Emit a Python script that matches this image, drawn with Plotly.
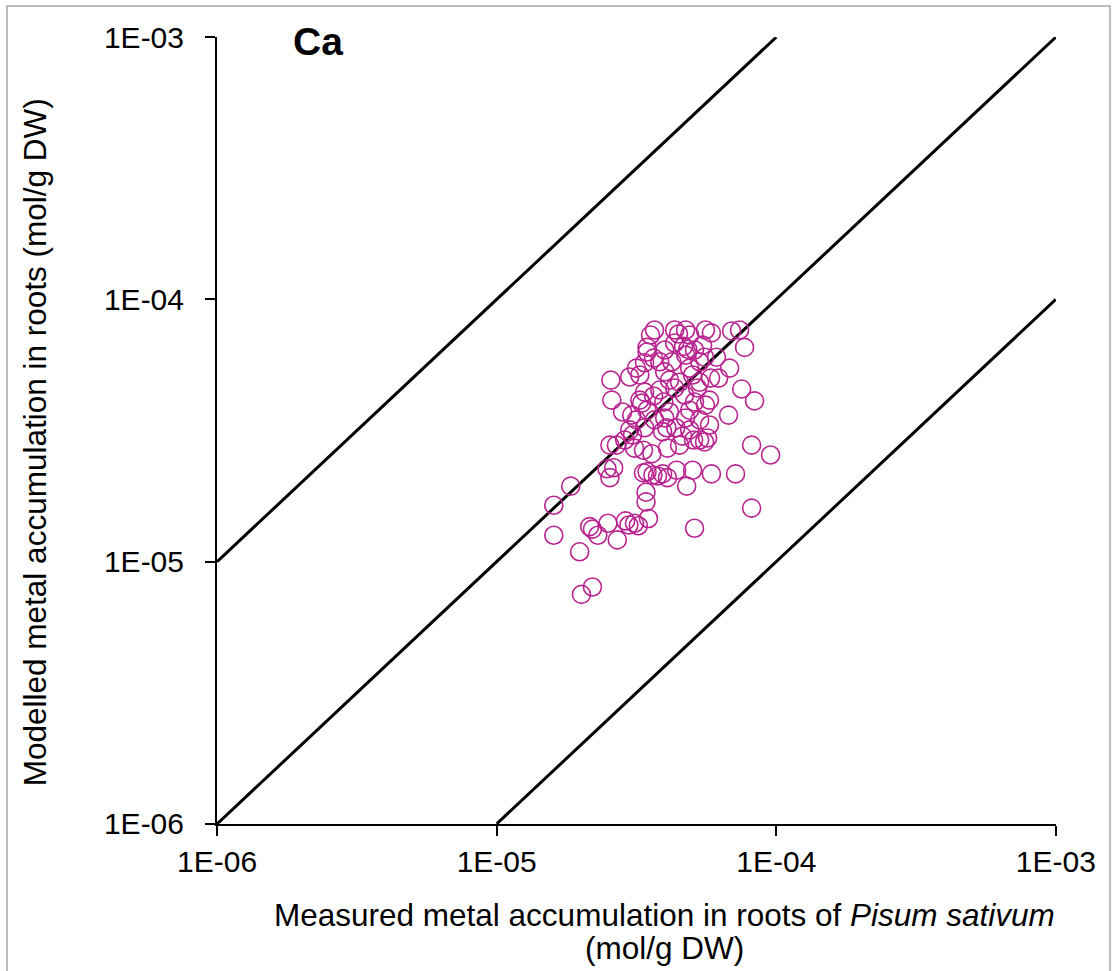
import plotly.graph_objects as go

# Measured (x) and modelled (y) Ca accumulation in roots, mol/g DW (values in units of 1e-5)
measured_e5 = [
    3.55, 3.67, 4.33, 4.47, 4.74, 4.90, 5.58, 5.86, 6.92, 7.39, 7.70, 3.45, 4.33, 4.66, 4.82, 5.45, 3.64, 3.45,
    3.25, 2.99, 3.16, 3.38, 3.83, 3.99, 4.15, 4.51, 4.74, 4.90, 5.32, 5.54, 6.11, 6.81, 5.82, 6.22, 5.32, 5.02,
    4.33, 3.83, 3.38, 3.25, 3.64, 3.96, 7.52, 8.36, 4.70, 5.23, 2.58, 2.56,
    2.82, 3.04, 3.30, 3.45, 3.67, 3.99, 4.15, 4.37, 4.74, 4.90, 5.10, 5.32, 5.58, 5.77, 6.75, 3.92, 4.06, 4.62,
    4.90, 5.06, 5.32, 5.54, 5.68, 5.77, 2.68, 2.87, 3.11, 3.35, 3.59, 4.08, 4.51, 8.16, 9.54, 3.06, 3.38, 3.16,
    2.99, 2.54,
    2.54, 2.62, 2.48, 3.35, 3.45, 3.62, 3.76, 3.92, 4.08, 4.40, 4.78, 5.02, 5.86, 7.15, 1.84, 3.42, 3.42, 1.60,
    1.60, 1.98, 2.01, 2.20, 2.15, 2.20, 2.30, 2.50, 2.70, 2.89, 2.97, 3.11, 3.21, 3.49, 5.10, 8.16,
    3.99, 5.10, 4.23,
]
modelled_e5 = [
    7.31, 7.64, 7.64, 7.38, 7.64, 7.31, 7.64, 7.45, 7.58, 7.64, 6.56, 6.56, 6.82, 6.62, 6.45, 6.69, 5.97, 6.30,
    5.15, 5.06, 5.47, 5.73, 5.78, 5.29, 4.92, 4.83, 6.13, 5.47, 5.78, 6.02, 6.02, 5.47, 5.01, 5.01, 4.83, 5.15,
    4.59, 4.51, 4.43, 4.13, 4.28, 4.06, 4.55, 4.10, 4.32, 4.59, 4.13, 4.92,
    3.72, 3.62, 4.02, 3.78, 3.47, 3.53, 3.72, 3.24, 3.53, 3.78, 4.06, 3.47, 3.95, 4.13, 3.62, 3.13, 3.24, 3.01,
    3.18, 2.91, 2.91, 2.86, 2.96, 3.32, 2.78, 2.91, 2.71, 2.66, 2.58, 2.71, 2.78, 2.78, 2.55, 3.04, 3.24, 3.47,
    3.18, 2.78,
    2.09, 2.28, 2.26, 2.18, 2.20, 2.14, 2.12, 2.16, 2.09, 2.23, 1.94, 2.23, 2.16, 2.16, 1.94, 1.84, 1.69, 1.64,
    1.26, 1.09, 0.75, 0.80, 1.36, 1.33, 1.26, 1.40, 1.21, 1.43, 1.38, 1.40, 1.37, 1.46, 1.34, 1.60,
    6.41, 6.41, 5.78,
]
measured = [v * 1e-5 for v in measured_e5]
modelled = [v * 1e-5 for v in modelled_e5]

# Reference lines: y = 10x, y = x, y = x/10
line_factors = [10, 1, 0.1]
line_x_start = [1e-6, 1e-6, 1e-5]
line_x_end = [1e-4, 1e-3, 1e-3]

tick_vals = [1e-6, 1e-5, 1e-4, 1e-3]
tick_text = ["1E-06", "1E-05", "1E-04", "1E-03"]

FONT = "Liberation Sans, Arial, sans-serif"

fig = go.Figure()
for f, x0, x1 in zip(line_factors, line_x_start, line_x_end):
    fig.add_trace(go.Scatter(
        x=[x0, x1], y=[x0 * f, x1 * f], mode="lines",
        line=dict(color="black", width=3), showlegend=False, hoverinfo="skip",
    ))

fig.add_trace(go.Scatter(
    x=measured, y=modelled, mode="markers",
    marker=dict(symbol="circle-open", size=18, color="#B8238F", line=dict(width=1.6, color="#B8238F")),
    showlegend=False,
))

axis_common = dict(
    type="log", range=[-6.0005, -2.9995], showgrid=False, zeroline=False,
    showline=True, linecolor="black", linewidth=2,
    ticks="outside", ticklen=10, tickwidth=2, tickcolor="black",
    tickvals=tick_vals, ticktext=tick_text,
    tickfont=dict(family=FONT, size=30, color="black"),
)
fig.update_xaxes(**axis_common)
fig.update_yaxes(**axis_common, ticklabelstandoff=15)

fig.update_layout(
    width=1117, height=971,
    margin=dict(l=217, r=61, t=37, b=147),
    paper_bgcolor="white", plot_bgcolor="white",
    font=dict(family=FONT, color="black"),
    annotations=[
        dict(text="<b>Ca</b>", x=0.1204, y=0.9937, xref="paper", yref="paper",
             showarrow=False, xanchor="center", yanchor="middle",
             font=dict(family=FONT, size=39, color="black")),
        dict(text="Measured metal accumulation in roots of <i>Pisum sativum</i>",
             x=0.533, y=-0.1156, xref="paper", yref="paper", showarrow=False,
             xanchor="center", yanchor="middle", font=dict(family=FONT, size=31.5, color="black")),
        dict(text="(mol/g DW)",
             x=0.533, y=-0.1576, xref="paper", yref="paper", showarrow=False,
             xanchor="center", yanchor="middle", font=dict(family=FONT, size=31.5, color="black")),
        dict(text="Modelled metal accumulation in roots (mol/g DW)",
             x=-0.217, y=0.485, xref="paper", yref="paper", showarrow=False, textangle=-90,
             xanchor="center", yanchor="middle", font=dict(family=FONT, size=31.5, color="black")),
    ],
    shapes=[
        dict(type="rect", xref="paper", yref="paper", x0=-0.2503, x1=1.0644, y0=-0.1919, y1=1.0394,
             line=dict(color="#A6A6A6", width=1.5), fillcolor="rgba(0,0,0,0)", layer="below"),
    ],
)

fig.write_html("out.html")
